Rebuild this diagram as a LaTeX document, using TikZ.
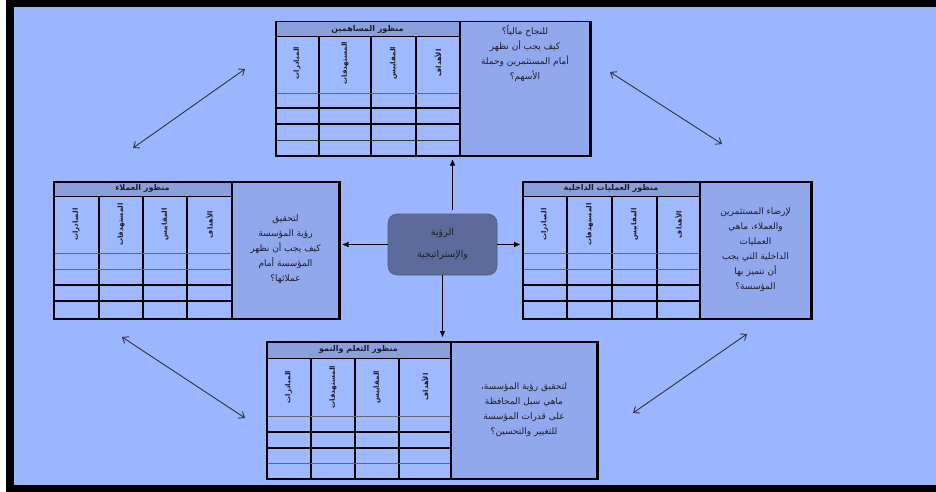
\documentclass[tikz,border=0pt]{standalone}
\usepackage{fontspec}
\newfontfamily\arabicfont[Script=Arabic]{DejaVu Sans}
\newfontfamily\arabicbold[Script=Arabic]{DejaVu Sans Bold}
\TeXXeTstate=1
\usetikzlibrary{arrows.meta}
\definecolor{bgblue}{RGB}{155,182,255}
\definecolor{cellblue}{RGB}{158,185,255}
\definecolor{headblue}{RGB}{138,160,222}
\definecolor{panelblue}{RGB}{145,168,236}
\definecolor{centerblue}{RGB}{92,107,155}
\definecolor{darktext}{RGB}{30,30,40}
\newcommand\artxt[1]{{\arabicfont\beginR#1\endR}}
\newcommand\artxb[1]{{\arabicbold\beginR#1\endR}}
\tikzset{
  clab/.style={rotate=90, inner sep=0pt, font=\fontsize{7}{8}\selectfont, text=darktext},
  htext/.style={inner sep=0pt, font=\fontsize{8}{9}\selectfont, text=darktext},
  ptext/.style={inner sep=0pt, align=center, font=\fontsize{9}{15}\selectfont, text=darktext},
  vline/.style={line width=1.5pt, draw=black},
  dblarrow/.style={line width=0.9pt, draw=black!80, {Straight Barb[length=5pt,width=8pt]}-{Straight Barb[length=5pt,width=8pt]}},
  carrow/.style={line width=0.9pt, draw=black, -{Triangle[length=6pt,width=5pt]}}
}
\newcommand\pframe[9]{%
  \fill[cellblue] (#2,#7) rectangle (#4,#6);
  \fill[headblue] (#2,#3) rectangle (#4,#7);
  \fill[panelblue] (#4,#3) rectangle (#5,#6);
  \foreach \cx in {#8} \draw[vline] (\cx,#7) -- (\cx,#6);
  \foreach \ry/\rw/\rc in {#9} \draw[line width=\rw pt, draw=\rc] (#2,\ry) -- (#4,\ry);
  \draw[line width=1pt] (#2,#7) -- (#4,#7);
  \draw[line width=1.5pt] (#4,#3) -- (#4,#6);
  \node[draw, line width=1.5pt, inner sep=0pt, anchor=north west,
        minimum width={(#5-#2)*1pt}, minimum height={(#6-#3)*1pt}] (#1) at (#2,#3) {};
  \draw[line width=2.5pt] (#5,#3) -- (#5,#6);
}
\newcommand\clabels[6]{%
  \node[clab] (#1-1) at (#3,#2) {\artxb{المبادرات}};
  \node[clab] (#1-2) at (#4,#2) {\artxb{المستهدفات}};
  \node[clab] (#1-3) at (#5,#2) {\artxb{المقاييس}};
  \node[clab] (#1-4) at (#6,#2) {\artxb{الأهداف}};
}
\begin{document}
\begin{tikzpicture}[x=1pt, y=-1pt]
\useasboundingbox (0,0) rectangle (936,492);
\fill[white] (0,0) rectangle (936,492);
\fill[black] (6,0) rectangle (936,492);
\fill[bgblue] (14,7) rectangle (936,485);

% top: shareholders
\pframe{top}{275}{21}{460}{590}{155}{37}{319,371,416}{93/0.8/black!60, 108/2/black, 124/1.2/black, 140/1/black!80}
\node[htext] (top-h) at (367.5,29) {\artxb{منظور المساهمين}};
\clabels{top}{63}{297}{345}{393.5}{438}
\node[ptext, anchor=north] (top-q) at (525,25) {\artxt{للنجاح مالياً؟}\\\artxt{كيف يجب أن نظهر}\\\artxt{أمام المستثمرين وحملة}\\\artxt{الأسهم؟}};

% left: customers
\pframe{left}{53}{181}{232}{339}{318}{196}{99,143,187}{253/0.8/black!60, 269/0.8/black!60, 285/2/black, 301/1.2/black}
\node[htext] (left-h) at (142.5,188.5) {\artxb{منظور العملاء}};
\clabels{left}{224.5}{76}{121}{165}{209.5}
\node[ptext] (left-q) at (285.5,249) {\artxt{لتحقيق}\\\artxt{رؤية المؤسسة}\\\artxt{كيف يجب أن نظهر}\\\artxt{المؤسسة أمام}\\\artxt{عملائها؟}};

% right: internal processes
\pframe{right}{522}{181}{700}{811}{318}{196}{567,612,657}{253/0.8/black!60, 269/0.8/black!60, 285/2/black, 301/1.2/black}
\node[htext] (right-h) at (611,188.5) {\artxb{منظور العمليات الداخلية}};
\clabels{right}{224.5}{544.5}{589.5}{634.5}{678.5}
\node[ptext] (right-q) at (755.5,250) {\artxt{لإرضاء المستثمرين}\\\artxt{والعملاء، ماهي}\\\artxt{العمليات}\\\artxt{الداخلية التي يجب}\\\artxt{أن نتميز بها}\\\artxt{المؤسسة؟}};

% bottom: learning and growth
\pframe{bottom}{266}{341}{451}{597}{478}{358}{311,355,399}{416/0.8/black!60, 432/1.2/black, 448/2/black, 463/0.8/black!60}
\node[htext] (bottom-h) at (358.5,349.5) {\artxb{منظور التعلم والنمو}};
\clabels{bottom}{387}{288.5}{333}{377}{425}
\node[ptext] (bottom-q) at (524,410) {\artxt{لتحقيق رؤية المؤسسة،}\\\artxt{ماهي سبل المحافظة}\\\artxt{على قدرات المؤسسة}\\\artxt{للتغيير والتحسين؟}};

% center
\node[rounded corners=9pt, fill=centerblue, draw=centerblue!85!black, line width=0.6pt,
      minimum width=109pt, minimum height=61pt, align=center,
      font=\fontsize{9.5}{22}\selectfont, text=darktext] (vis) at (442.5,244.5)
      {\artxt{الرؤية}\\\artxt{والإستراتيجية}};

\draw[carrow, shorten >=3pt] ([xshift=10pt, yshift=4pt]vis.north) -- ([xshift=10pt]vis.north |- top.south);
\draw[carrow, shorten >=4pt] (vis.south) -- (vis.south |- bottom.north);
\draw[carrow, shorten >=2pt] (vis.west) -- (vis.west -| left.east);
\draw[carrow, shorten >=2pt] (vis.east) -- (vis.east -| right.west);

% diagonal double arrows
\coordinate (d1a) at (133,148); \coordinate (d1b) at (245,69);
\coordinate (d2a) at (610,72);  \coordinate (d2b) at (722,144);
\coordinate (d3a) at (122,337); \coordinate (d3b) at (245,418);
\coordinate (d4a) at (747,334); \coordinate (d4b) at (633,413);
\draw[dblarrow] (d1a) -- (d1b);
\draw[dblarrow] (d2a) -- (d2b);
\draw[dblarrow] (d3a) -- (d3b);
\draw[dblarrow] (d4a) -- (d4b);
\end{tikzpicture}
\end{document}
